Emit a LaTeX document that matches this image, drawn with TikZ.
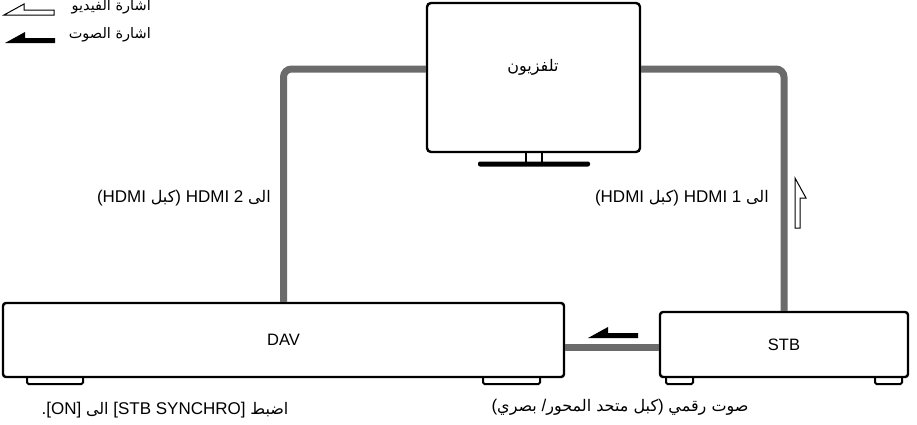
\documentclass[tikz,border=0pt]{standalone}
\usepackage{fontspec}
\usepackage{xcolor}
\setmainfont{Liberation Sans}
\newfontfamily\arabicfont[Script=Arabic]{DejaVu Sans}
\TeXXeTstate=1
\usetikzlibrary{positioning}
\definecolor{cablegray}{HTML}{6B6B6B}
\newcommand{\artxt}[1]{{\arabicfont\fontsize{16}{19}\selectfont #1}}
\newcommand{\keytxt}[1]{{\arabicfont\fontsize{14.5}{17}\selectfont #1}}

\begin{document}
\begin{tikzpicture}[x=1pt, y=-1pt,
    cable/.style={draw=cablegray, line width=7pt, rounded corners=8pt},
    device/.style={rectangle, rounded corners=3pt, draw=black, line width=2.4pt,
                   fill=white, inner sep=0pt, font=\fontsize{16.5}{19}\selectfont},
    screen/.style={device, rounded corners=4pt, minimum width=213pt, minimum height=149pt},
    foot/.style={draw=black, line width=2pt, fill=white, rounded corners=1.5pt},
    caption/.style={inner sep=0pt, font=\fontsize{17}{20}\selectfont},
    sigvideo/.style={draw=black, line width=1pt, fill=white},
    sigaudio/.style={fill=black},
    harpoon/.pic={\path[pic actions] (0,0) -- (20,-11) -- (20,-5) -- (50,-5) -- (50,0) -- cycle;}
]
\useasboundingbox (0,0) rectangle (917,424);

\draw [line width=1.5pt, fill=white] (526,150) rectangle (542,163);
\fill [rounded corners=2pt] (478,161.5) rectangle (590,166.5);
\foreach \a/\b in {27/83, 483/540, 666/693, 875/902}
  \draw [foot] (\a,374) -- (\a,384) -- (\b,384) -- (\b,374);

\node (tv)  [screen] at (533.5,77.5) {};
\node (dav) [device, minimum width=561pt, minimum height=74pt] at (283.5,340) {DAV};
\node (stb) [device, minimum width=248pt, minimum height=65pt] at (784,344.5) {STB};
\node (tvname) [caption] at (533,67) {\beginR\artxt{تلفزيون}\endR};
\coordinate (tvtap) at (533,69);
\coordinate (audiotap) at (612,347);

\draw [cable] (tv.west |- tvtap) -| (dav.north);
\draw [cable] (tv.east |- tvtap) -| (stb.north);
\draw [cable] (dav.east |- audiotap) -- (stb.west |- audiotap);

\node (hdmitwo) [caption, anchor=east] at (271,198)
  {\beginR\artxt{الى} \beginL HDMI 2\endL{} )\artxt{كبل} \beginL HDMI\endL(\endR};
\node (hdmione) [caption, anchor=east] at (769,198)
  {\beginR\artxt{الى} \beginL HDMI 1\endL{} )\artxt{كبل} \beginL HDMI\endL(\endR};
\node (synchro) [caption] at (165,410)
  {\beginR\artxt{اضبط} \beginL[STB SYNCHRO]\endL{} \artxt{الى} \beginL[ON]\endL.\endR};
\node (coax) [caption] at (620,407)
  {\beginR\artxt{صوت رقمي} )\artxt{كبل متحد المحور}/ \artxt{بصري}(\endR};

\node (videokey) [caption, anchor=east] at (151,7)  {\beginR\keytxt{اشارة الفيديو}\endR};
\node (audiokey) [caption, anchor=east] at (151,35) {\beginR\keytxt{اشارة الصوت}\endR};
\pic [sigvideo] at (4,15) {harpoon};
\pic [sigaudio] at (5,43) {harpoon};
\pic [sigaudio] at (588,338) {harpoon};
\pic [sigvideo, rotate=-90] at (795,178) {harpoon};
\end{tikzpicture}
\end{document}
